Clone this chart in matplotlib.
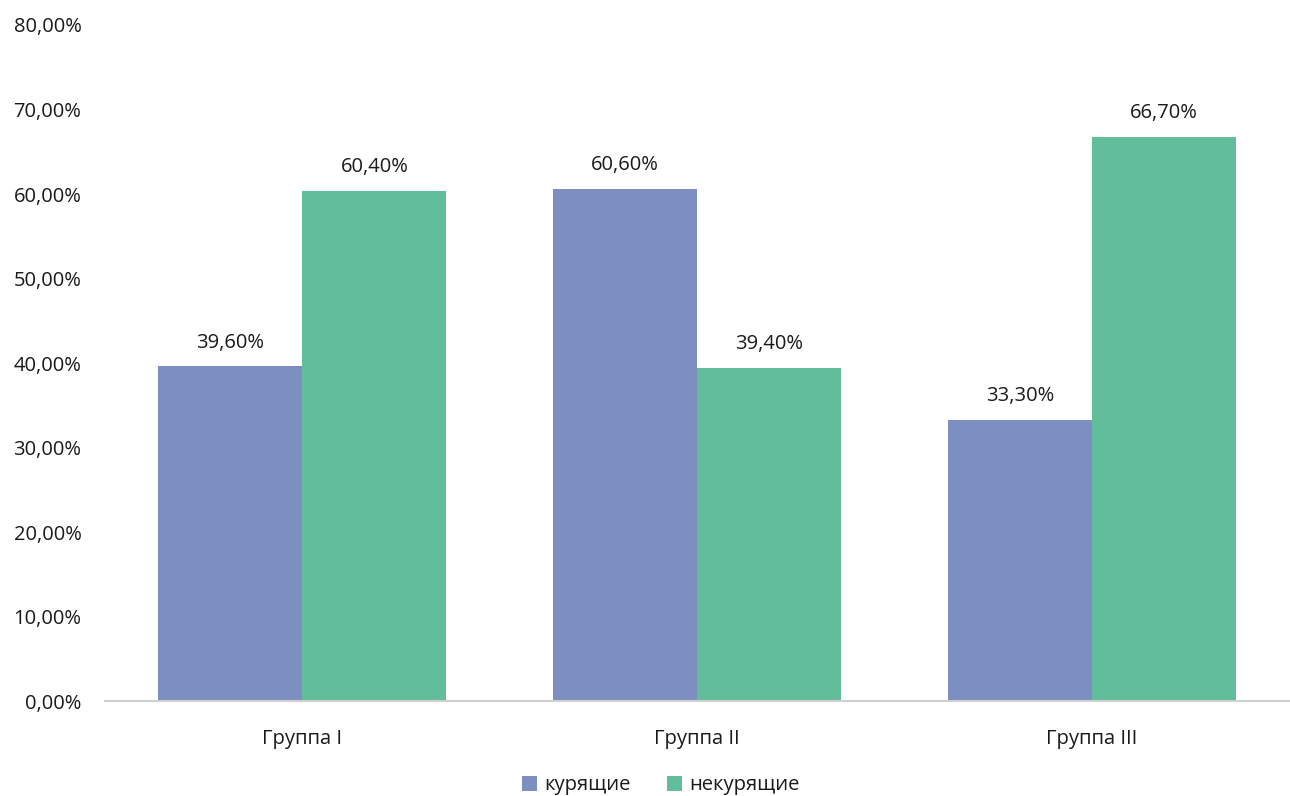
import numpy as np
from matplotlib import pyplot as plt
from matplotlib.ticker import FuncFormatter

plt.rcParams["font.family"] = ["Open Sans", "DejaVu Sans"]

groups = ["Группа I", "Группа II", "Группа III"]
smokers = [39.6, 60.6, 33.3]
non_smokers = [60.4, 39.4, 66.7]
series_names = ["курящие", "некурящие"]
colors = ["#7d8fc0", "#61bd9a"]

fig = plt.figure(figsize=(12.9, 7.96), dpi=100)
ax = fig.add_axes([0.0814, 0.1193, 0.918, 0.8493])

x = np.arange(len(groups))
w = 0.3646
b1 = ax.bar(x - w / 2, smokers, w, color=colors[0], label=series_names[0])
b2 = ax.bar(x + w / 2, non_smokers, w, color=colors[1], label=series_names[1])

def pct(v):
    return f"{v:.2f}%".replace(".", ",")

for bars, vals in [(b1, smokers), (b2, non_smokers)]:
    for r, v in zip(bars, vals):
        ax.annotate(pct(v), (r.get_x() + r.get_width() / 2, v),
                    xytext=(0, 10), textcoords="offset points",
                    ha="center", va="bottom", fontsize=14.5, color="#1a1a1a")

ax.set_xlim(-0.5, 2.5)
ax.set_ylim(0, 80)
ax.set_yticks(np.arange(0, 81, 10))
ax.yaxis.set_major_formatter(FuncFormatter(lambda v, p: pct(v)))
ax.set_xticks(x)
ax.set_xticklabels(groups)
ax.tick_params(axis="both", length=0, labelsize=14.5, labelcolor="#1a1a1a")
ax.tick_params(axis="y", pad=17)
ax.tick_params(axis="x", pad=20)
for s in ["top", "right", "left"]:
    ax.spines[s].set_visible(False)
ax.spines["bottom"].set_color("#d0d0d0")
ax.spines["bottom"].set_linewidth(1.5)

fig.legend(loc="lower center", bbox_to_anchor=(0.512, -0.022), ncol=2, frameon=False,
           fontsize=14.5, handlelength=0.75, handleheight=0.75, handletextpad=0.35,
           columnspacing=1.8, labelcolor="#1a1a1a")

fig.savefig("out.png", dpi=100)
